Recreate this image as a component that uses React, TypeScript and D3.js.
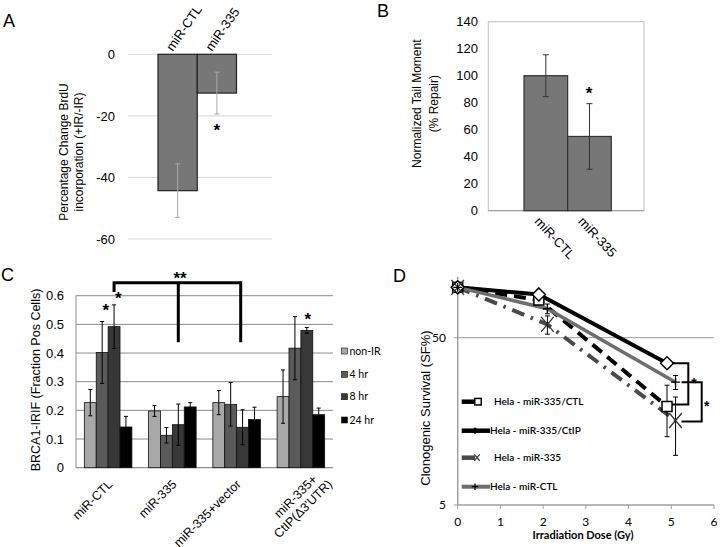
import React from "react";
import * as d3 from "d3";

// ---------- Panel A data ----------
const aCategories = ["miR-CTL", "miR-335"];
const aValues = [-44.3, -12.6];
const aErrors = [8.7, 6.8];
const aTicks = [0, -20, -40, -60];

// ---------- Panel B data ----------
const bCategories = ["miR-CTL", "miR-335"];
const bValues = [100, 55];
const bErrors = [15.5, 24.3];
const bTicks = [0, 20, 40, 60, 80, 100, 120, 140];

// ---------- Panel C data ----------
const cGroups = ["miR-CTL", "miR-335", "miR-335+vector", "miR-335+|CtIP(Δ3'UTR)"];
const cSeries = ["non-IR", "4 hr", "8 hr", "24 hr"];
const cNonIR = [0.227, 0.198, 0.227, 0.248];
const cNonIRErr = [0.046, 0.019, 0.042, 0.093];
const c4hr = [0.402, 0.113, 0.221, 0.417];
const c4hrErr = [0.108, 0.027, 0.076, 0.11];
const c8hr = [0.492, 0.15, 0.141, 0.479];
const c8hrErr = [0.076, 0.072, 0.061, 0.01];
const c24hr = [0.142, 0.212, 0.168, 0.185];
const c24hrErr = [0.037, 0.015, 0.043, 0.023];
const cColors = ["#a8a8a8", "#5a5a5a", "#383838", "#000000"];
const cTicks = [0, 0.1, 0.2, 0.3, 0.4, 0.5, 0.6];
const cTickLabels = ["0", "0.1", "0.2", "0.3", "0.4", "0.5", "0.6"];

// ---------- Panel D data ----------
const dNames = ["Hela - miR-335/CTL", "Hela - miR-335/CtIP", "Hela - miR-335", "Hela - miR-CTL"];
const dDose335CTL = [0, 1.9, 4.9];
const dSurv335CTL = [100, 84, 19.4];
const dErr335CTL = [0, 0, 6.6];
const dDose335CtIP = [0, 1.9, 4.9];
const dSurv335CtIP = [100, 90.7, 35.2];
const dErr335CtIP = [0, 0, 0];
const dDose335 = [0, 2.1, 5.1];
const dSurv335 = [100, 60, 16];
const dErr335 = [0, 7.5, 6.1];
const dDoseCTL = [0, 2.1, 5.1];
const dSurvCTL = [100, 74.5, 27.1];
const dErrCTL = [0, 5, 2.6];
const dXTicks = [0, 1, 2, 3, 4, 5, 6];
const dYTicks = [5, 50];

const F_ARIAL = "'Liberation Sans', Arial, Helvetica, sans-serif";
const F_CAL = "Lato, 'Open Sans', sans-serif";

function ErrBar({ x, y1, y2, cap, color, w = 1 }: any) {
  return (
    <g stroke={color} strokeWidth={w}>
      <line x1={x} x2={x} y1={y1} y2={y2} />
      <line x1={x - cap / 2} x2={x + cap / 2} y1={y1} y2={y1} />
      <line x1={x - cap / 2} x2={x + cap / 2} y1={y2} y2={y2} />
    </g>
  );
}

function Star({ x, y, size = 17 }: any) {
  return (
    <text x={x} y={y + size * 0.57} fontSize={size} fontWeight="bold" textAnchor="middle" fontFamily={F_ARIAL}>
      *
    </text>
  );
}

function Marker({ kind, cx, cy, s, legend = false }: any) {
  if (kind === "square")
    return <rect x={cx - s / 2} y={cy - s / 2} width={s} height={s} fill="#fff" stroke="#000" strokeWidth={1.5} />;
  if (kind === "diamond")
    return (
      <path
        d={`M${cx},${cy - s / 2}L${cx + s / 2},${cy}L${cx},${cy + s / 2}L${cx - s / 2},${cy}Z`}
        fill={legend ? "#000" : "#fff"}
        stroke="#000"
        strokeWidth={1.5}
      />
    );
  if (kind === "x")
    return (
      <path
        d={`M${cx - s * 0.42},${cy - s / 2}L${cx + s * 0.42},${cy + s / 2}M${cx + s * 0.42},${cy - s / 2}L${cx - s * 0.42},${cy + s / 2}`}
        stroke="#333"
        strokeWidth={1.3}
        fill="none"
      />
    );
  return (
    <path d={`M${cx - s / 2},${cy}H${cx + s / 2}M${cx},${cy - s / 2}V${cy + s / 2}`} stroke="#000" strokeWidth={1.3} fill="none" />
  );
}

export default function App() {
  // ----- Panel A -----
  const yA = d3.scaleLinear().domain([-60, 0]).range([239, 54.3]);
  const xA = d3.scaleBand<string>().domain(aCategories).range([158, 236.5]);

  // ----- Panel B -----
  const yB = d3.scaleLinear().domain([0, 140]).range([210.7, 21.7]);
  const xB = d3.scaleBand<string>().domain(bCategories).range([524, 611.3]);

  // ----- Panel C -----
  const yC = d3.scaleLinear().domain([0, 0.6]).range([467.7, 295.7]);
  const xC = d3.scaleBand<string>().domain(cGroups).range([76, 333]).paddingInner(0.26).paddingOuter(0.13);
  const xCi = d3.scaleBand<string>().domain(cSeries).range([0, xC.bandwidth()]);
  const cVals = [cNonIR, c4hr, c8hr, c24hr];
  const cErrs = [cNonIRErr, c4hrErr, c8hrErr, c24hrErr];

  // ----- Panel D -----
  const xD = d3.scaleLinear().domain([0, 6]).range([457.7, 714]);
  const yD = d3.scaleLog().domain([5, 50]).range([505, 337.7]);
  const dSeries = [
    { name: dNames[0], x: dDose335CTL, y: dSurv335CTL, e: dErr335CTL, color: "#000", w: 4, dash: "12,7", marker: "square", ms: 10 },
    { name: dNames[1], x: dDose335CtIP, y: dSurv335CtIP, e: dErr335CtIP, color: "#000", w: 4, dash: "", marker: "diamond", ms: 13 },
    { name: dNames[2], x: dDose335, y: dSurv335, e: dErr335, color: "#4a4a4a", w: 4, dash: "13,7,2.5,7", marker: "x", ms: 15 },
    { name: dNames[3], x: dDoseCTL, y: dSurvCTL, e: dErrCTL, color: "#6e6e6e", w: 3.5, dash: "", marker: "plus", ms: 9 },
  ];
  const lineD = d3
    .line<[number, number]>()
    .x((d) => xD(d[0]))
    .y((d) => yD(d[1]));
  const legendY = [401.7, 430.7, 457.7, 486.7];
  const legendLineEnd = [477, 490, 475, 490];
  const legendMarkerX = [478, 475, 477, 475];
  const legendTextX = [494, 490, 494, 490];
  const cLegendY = [351, 374.3, 396.7, 420];

  return (
    <svg width={720} height={547} style={{ position: "absolute", left: 0, top: 0, background: "#fff" }}>
      <style>{`body{margin:0}`}</style>
      <rect x={0} y={0} width={720} height={547} fill="#fff" />

      {/* ================= Panel A ================= */}
      <text x={3} y={27} fontSize={18} fontFamily={F_ARIAL}>A</text>
      {aTicks.map((t) => (
        <g key={"ag" + t}>
          <line x1={128} x2={272} y1={yA(t)} y2={yA(t)} stroke="#d9d9d9" />
          <text x={115} y={yA(t)} dy="0.36em" textAnchor="end" fontSize={13} fontFamily={F_ARIAL}>{t}</text>
        </g>
      ))}
      {aCategories.map((c, i) => (
        <g key={"ab" + c}>
          <rect x={xA(c)!} y={yA(0)} width={xA.bandwidth()} height={yA(aValues[i]) - yA(0)} fill="#777" stroke="#222" strokeWidth={1.2} />
          <ErrBar x={xA(c)! + xA.bandwidth() / 2} y1={yA(aValues[i] + aErrors[i])} y2={yA(aValues[i] - aErrors[i])} cap={5} color="#aaa" />
          <text
            transform={`translate(${xA(c)! + xA.bandwidth() / 2 - 5},${52}) rotate(-55)`}
            fontSize={13}
            fontFamily={F_ARIAL}
          >
            {c}
          </text>
        </g>
      ))}
      <Star x={216.7} y={126} />
      <g transform="translate(0,152) rotate(-90)" fontSize={12} fontFamily={F_ARIAL} textAnchor="middle">
        <text x={0} y={68}>Percentage Change BrdU</text>
        <text x={0} y={82.5}>incorporation (+IR/-IR)</text>
      </g>

      {/* ================= Panel B ================= */}
      <text x={377} y={17} fontSize={18} fontFamily={F_ARIAL}>B</text>
      <rect x={488.3} y={yB(140)} width={155.7} height={yB(0) - yB(140)} fill="none" stroke="#bdbdbd" />
      <line x1={488.3} x2={644} y1={yB(0)} y2={yB(0)} stroke="#999" />
      {bTicks.map((t) => (
        <text key={"bt" + t} x={478} y={yB(t)} dy="0.36em" textAnchor="end" fontSize={13} fontFamily={F_ARIAL}>{t}</text>
      ))}
      {bCategories.map((c, i) => (
        <g key={"bb" + c}>
          <rect x={xB(c)!} y={yB(bValues[i])} width={xB.bandwidth()} height={yB(0) - yB(bValues[i])} fill="#777" stroke="#333" strokeWidth={1.2} />
          <ErrBar x={xB(c)! + xB.bandwidth() / 2} y1={yB(bValues[i] + bErrors[i])} y2={yB(bValues[i] - bErrors[i])} cap={6} color="#333" />
          <text
            transform={`translate(${xB(c)! + xB.bandwidth() / 2 - 12},${222}) rotate(47)`}
            fontSize={13}
            fontFamily={F_ARIAL}
          >
            {c}
          </text>
        </g>
      ))}
      <Star x={589} y={89} />
      <g transform="translate(0,103.7) rotate(-90)" fontSize={12} fontFamily={F_ARIAL} textAnchor="middle">
        <text x={0} y={421}>Normalized Tail Moment</text>
        <text x={0} y={438}>(% Repair)</text>
      </g>

      {/* ================= Panel C ================= */}
      <text x={1} y={281} fontSize={18} fontFamily={F_ARIAL}>C</text>
      {cTicks.map((t, i) => (
        <g key={"cg" + t}>
          <line x1={76} x2={333} y1={yC(t)} y2={yC(t)} stroke={t === 0 ? "#777" : "#8c8c8c"} />
          <text x={64} y={yC(t)} dy="0.36em" textAnchor="end" fontSize={13} fontFamily={F_ARIAL}>{cTickLabels[i]}</text>
        </g>
      ))}
      <line x1={76} x2={76} y1={yC(0.6)} y2={yC(0)} stroke="#8c8c8c" />
      {cGroups.map((g, gi) => (
        <g key={"cgrp" + g}>
          {cSeries.map((s, si) => {
            const x0 = xC(g)! + xCi(s)!;
            const v = cVals[si][gi];
            const e = cErrs[si][gi];
            return (
              <g key={s}>
                <rect x={x0} y={yC(v)} width={xCi.bandwidth()} height={yC(0) - yC(v)} fill={cColors[si]} stroke="#111" strokeWidth={0.8} />
                <ErrBar x={x0 + xCi.bandwidth() / 2} y1={yC(v + e)} y2={yC(v - e)} cap={4} color="#000" />
              </g>
            );
          })}
        </g>
      ))}
      {cGroups.map((g) => {
        const cx = xC(g)! + xC.bandwidth() / 2;
        const lines = g.split("|");
        if (lines.length === 1)
          return (
            <text key={"cl" + g} transform={`translate(${cx + 5},${485}) rotate(-45)`} textAnchor="end" fontSize={12.5} fontFamily={F_ARIAL}>
              {g}
            </text>
          );
        return (
          <g key={"cl" + g}>
            <text transform={`translate(${cx + 17},${480}) rotate(-45)`} textAnchor="end" fontSize={12.5} fontFamily={F_ARIAL}>
              {lines[0]}
            </text>
            <text transform={`translate(${cx + 32},${485}) rotate(-45)`} textAnchor="end" fontSize={12.5} fontFamily={F_ARIAL}>
              {lines[1]}
            </text>
          </g>
        );
      })}
      <g transform="translate(0,380) rotate(-90)" fontSize={12.5} fontFamily={F_ARIAL} textAnchor="middle">
        <text x={0} y={40}>BRCA1-IRIF (Fraction Pos Cells)</text>
      </g>
      {/* significance bracket */}
      <path
        d={`M${xC(cGroups[0])! + xCi(cSeries[2])! + xCi.bandwidth() / 2},292V282.7H240.7V342.3M178.3,282.7V342.3`}
        fill="none"
        stroke="#000"
        strokeWidth={3}
      />
      <text x={180} y={284} fontSize={17} fontWeight="bold" textAnchor="middle" fontFamily={F_ARIAL}>**</text>
      <Star x={105.7} y={306} />
      <Star x={118.3} y={294.3} />
      <Star x={307.7} y={315} />
      {/* legend C */}
      {cSeries.map((s, i) => (
        <g key={"cleg" + s}>
          <rect x={341.5} y={cLegendY[i] - 3} width={6} height={6} fill={cColors[i]} stroke="#111" strokeWidth={0.6} />
          <text x={349.5} y={cLegendY[i]} dy="0.36em" fontSize={10.5} fontFamily={F_CAL}>{s}</text>
        </g>
      ))}

      {/* ================= Panel D ================= */}
      <text x={393} y={282} fontSize={18} fontFamily={F_ARIAL}>D</text>
      <line x1={xD(0)} x2={714} y1={yD(50)} y2={yD(50)} stroke="#9a9a9a" />
      <line x1={xD(0)} x2={xD(0)} y1={277} y2={yD(5)} stroke="#a0a0a0" strokeWidth={1.5} />
      <line x1={xD(0)} x2={714} y1={yD(5)} y2={yD(5)} stroke="#a0a0a0" strokeWidth={1.5} />
      {dXTicks.map((t) => (
        <g key={"dx" + t}>
          <line x1={xD(t)} x2={xD(t)} y1={yD(5)} y2={yD(5) + 4} stroke="#a0a0a0" />
          <text x={xD(t)} y={526} textAnchor="middle" fontSize={12} fontFamily={F_CAL}>{t}</text>
        </g>
      ))}
      {dYTicks.map((t) => (
        <g key={"dy" + t}>
          <line x1={xD(0) - 4} x2={xD(0)} y1={yD(t)} y2={yD(t)} stroke="#a0a0a0" />
          <text x={446} y={yD(t)} dy="0.36em" textAnchor="end" fontSize={12} fontFamily={F_CAL}>{t}</text>
        </g>
      ))}
      <text x={583} y={539} textAnchor="middle" fontSize={11} fontWeight="bold" fontFamily={F_CAL}>Irradiation Dose (Gy)</text>
      <g transform="translate(0,408) rotate(-90)" fontSize={13} fontFamily={F_ARIAL} textAnchor="middle">
        <text x={0} y={430}>Clonogenic Survival (SF%)</text>
      </g>
      {dSeries.map((s) => (
        <path
          key={"dl" + s.name}
          d={lineD(s.x.map((x, i) => [x, s.y[i]] as [number, number]))!}
          fill="none"
          stroke={s.color}
          strokeWidth={s.w}
          strokeDasharray={s.dash || undefined}
        />
      ))}
      {dSeries.map((s) =>
        s.x.map((x, i) =>
          s.e[i] > 0 ? (
            <ErrBar key={"de" + s.name + i} x={xD(x)} y1={yD(s.y[i] + s.e[i])} y2={yD(s.y[i] - s.e[i])} cap={5} color="#000" />
          ) : null
        )
      )}
      {dSeries.map((s) =>
        s.x.map((x, i) => <Marker key={"dm" + s.name + i} kind={s.marker} cx={xD(x)} cy={yD(s.y[i])} s={s.ms} />)
      )}
      {/* significance brackets */}
      <path d={`M${xD(dDose335CtIP[2]) + 5},${yD(dSurv335CtIP[2])}H688.3V${yD(dSurv335CTL[2]) - 2}H${xD(dDose335CtIP[2]) + 5}`} fill="none" stroke="#000" strokeWidth={2} />
      <path d={`M${xD(dDoseCTL[2]) + 6},${yD(dSurvCTL[2])}H701.7V${yD(dSurv335[2]) + 1}H${xD(dDoseCTL[2]) + 6}`} fill="none" stroke="#000" strokeWidth={2} />
      <Star x={694} y={380} size={14} />
      <Star x={706.7} y={403.3} size={14} />
      {/* legend D */}
      {dSeries.map((s, i) => (
        <g key={"dleg" + s.name}>
          <line x1={461.7} x2={legendLineEnd[i]} y1={legendY[i]} y2={legendY[i]} stroke={s.color} strokeWidth={s.w + 0.5} />
          <Marker kind={s.marker} cx={legendMarkerX[i]} cy={legendY[i]} s={s.marker === "diamond" ? 5 : 6.5} legend />
          <text x={legendTextX[i]} y={legendY[i]} dy="0.36em" fontSize={10} fontWeight={600} fontFamily={F_CAL}>{s.name}</text>
        </g>
      ))}
    </svg>
  );
}
